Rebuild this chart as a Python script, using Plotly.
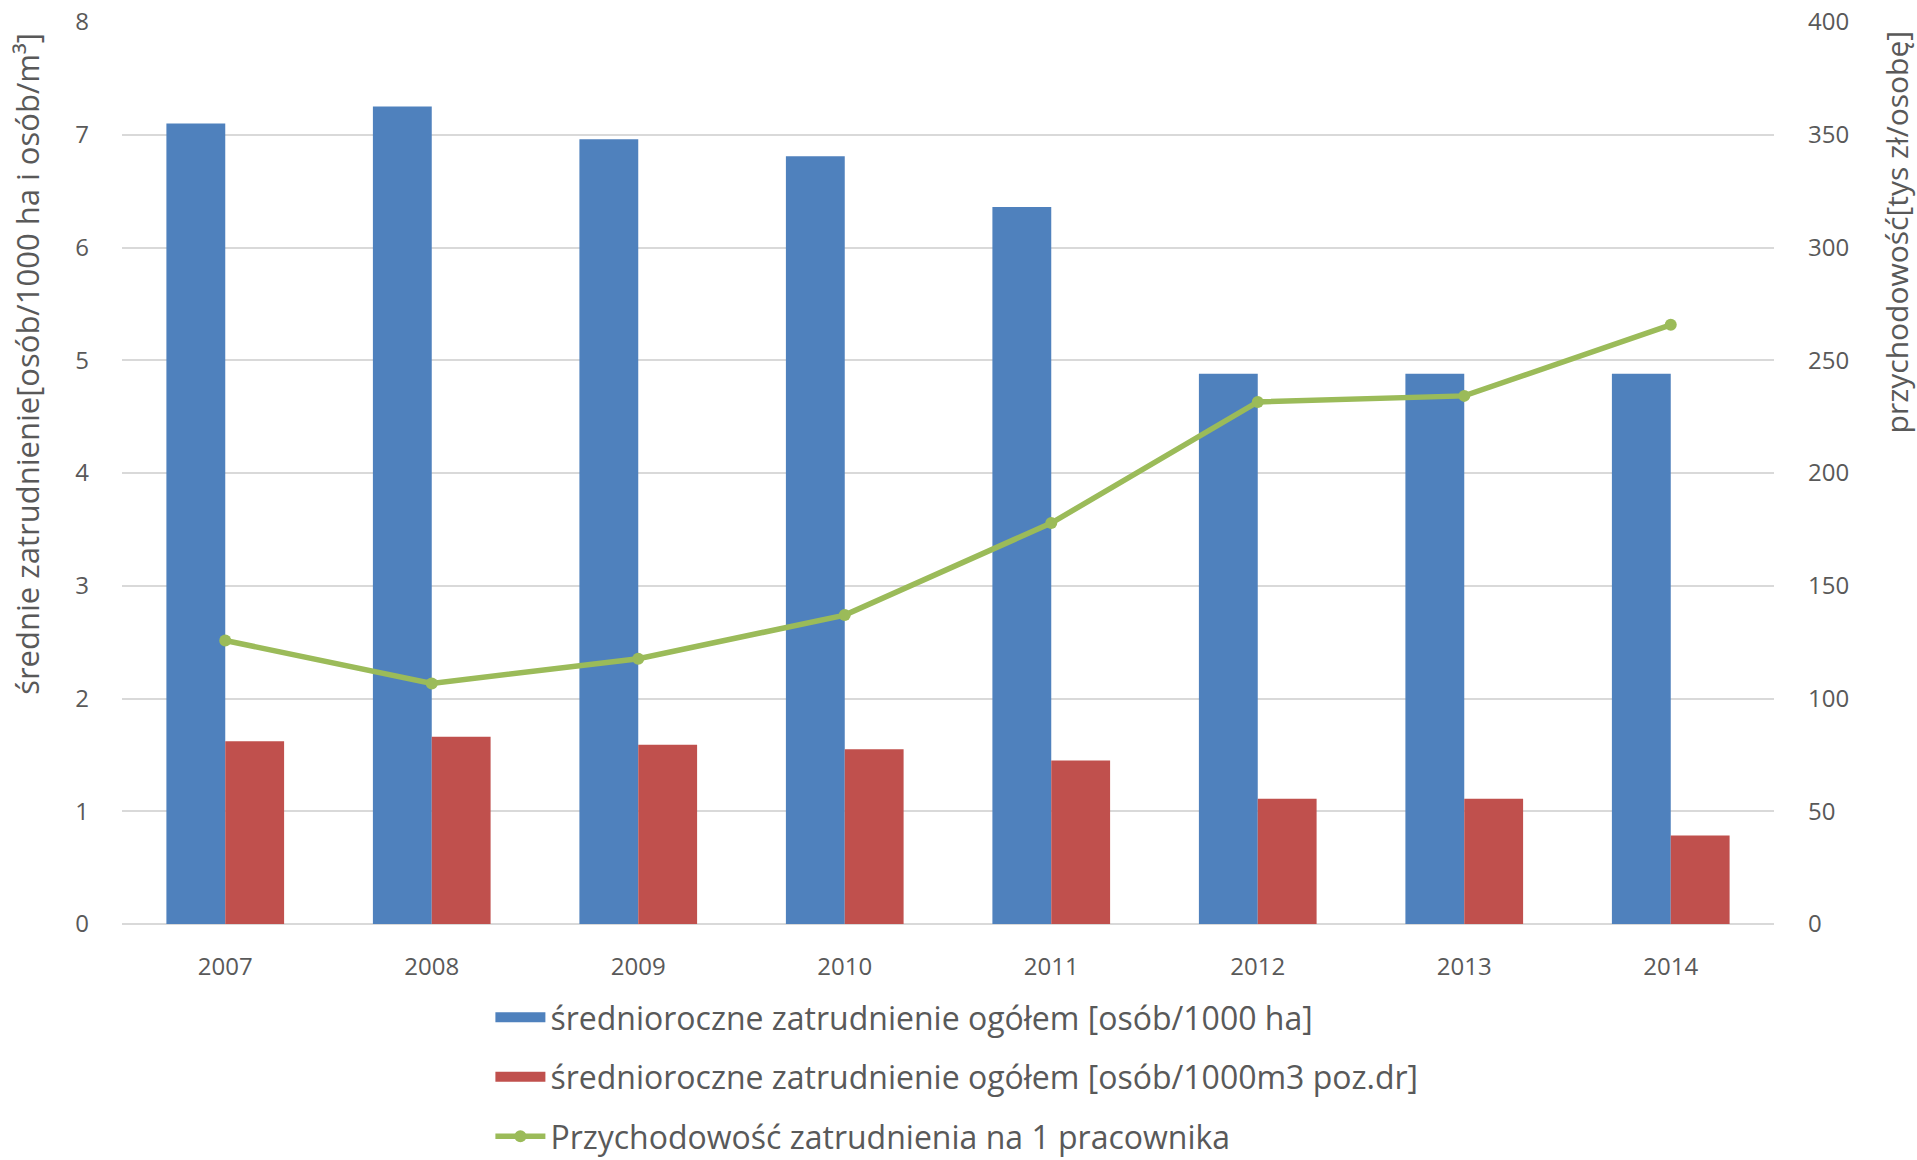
import plotly.graph_objects as go

years = ["2007", "2008", "2009", "2010", "2011", "2012", "2013", "2014"]
zatr_ha = [7.10, 7.25, 6.96, 6.81, 6.36, 4.88, 4.88, 4.88]
zatr_m3 = [1.62, 1.66, 1.59, 1.55, 1.45, 1.11, 1.11, 0.785]
przychodowosc = [125.7, 106.7, 117.6, 137.0, 177.8, 231.5, 234.2, 265.7]

name_ha = "średnioroczne zatrudnienie ogółem [osób/1000 ha]"
name_m3 = "średnioroczne zatrudnienie ogółem [osób/1000m3 poz.dr]"
name_pr = "Przychodowość zatrudnienia na 1 pracownika"
left_title = "średnie zatrudnienie[osób/1000 ha i osób/m³]"
right_title = "przychodowość[tys zł/osobę]"

FONT = "Open Sans"
GREY = "#595959"
BLUE, RED, GREEN = "#4F81BD", "#C0504D", "#9BBB59"

fig = go.Figure()
fig.add_trace(go.Bar(x=years, y=zatr_ha, name=name_ha, marker_color=BLUE,
                     marker_line_width=0, legendgroup="a", showlegend=False))
fig.add_trace(go.Bar(x=years, y=zatr_m3, name=name_m3, marker_color=RED,
                     marker_line_width=0, legendgroup="b", showlegend=False))
# legend-only swatches (wide rectangles like the original legend)
fig.add_trace(go.Scatter(x=[None], y=[None], name=name_ha, mode="lines",
                         line=dict(color=BLUE, width=21), legendgroup="a"))
fig.add_trace(go.Scatter(x=[None], y=[None], name=name_m3, mode="lines",
                         line=dict(color=RED, width=21), legendgroup="b"))
fig.add_trace(go.Scatter(x=years, y=przychodowosc, name=name_pr, yaxis="y2",
                         mode="lines+markers", line=dict(color=GREEN, width=5.5),
                         marker=dict(color=GREEN, size=12), legendgroup="c"))

fig.update_layout(
    width=1917, height=1160,
    margin=dict(l=122, r=143, t=22, b=236, autoexpand=False),
    paper_bgcolor="white", plot_bgcolor="white",
    barmode="group", bargap=0.43, bargroupgap=0,
    font=dict(family=FONT, color=GREY, size=24),
    xaxis=dict(showgrid=False, showline=False, ticks="", ticklabelstandoff=26,
               tickfont=dict(size=24, color=GREY)),
    yaxis=dict(range=[0, 8], dtick=1, showgrid=True, gridcolor="#D9D9D9", gridwidth=1.5,
               zeroline=True, zerolinecolor="#D9D9D9", zerolinewidth=2,
               showline=False, ticks="", ticklabelstandoff=32,
               tickfont=dict(size=24, color=GREY)),
    yaxis2=dict(range=[0, 400], dtick=50, overlaying="y", side="right",
                showgrid=False, zeroline=False, showline=False, ticks="",
                ticklabelstandoff=33, tickfont=dict(size=24, color=GREY)),
    legend=dict(orientation="v", x=0.223, xanchor="left", y=-0.073, yanchor="top",
                font=dict(size=32, color=GREY), tracegroupgap=15,
                itemwidth=50, bgcolor="rgba(0,0,0,0)"),
    annotations=[
        dict(text=left_title, textangle=-90, xref="paper", yref="paper",
             x=-0.0575, y=0.621, xanchor="center", yanchor="middle",
             showarrow=False, font=dict(size=31, color=GREY)),
        dict(text=right_title, textangle=-90, xref="paper", yref="paper",
             x=1.074, y=0.767, xanchor="center", yanchor="middle",
             showarrow=False, font=dict(size=30, color=GREY)),
    ],
)

fig.write_html("out.html", config={"displayModeBar": False},
               post_script="document.body.style.margin='0';")
